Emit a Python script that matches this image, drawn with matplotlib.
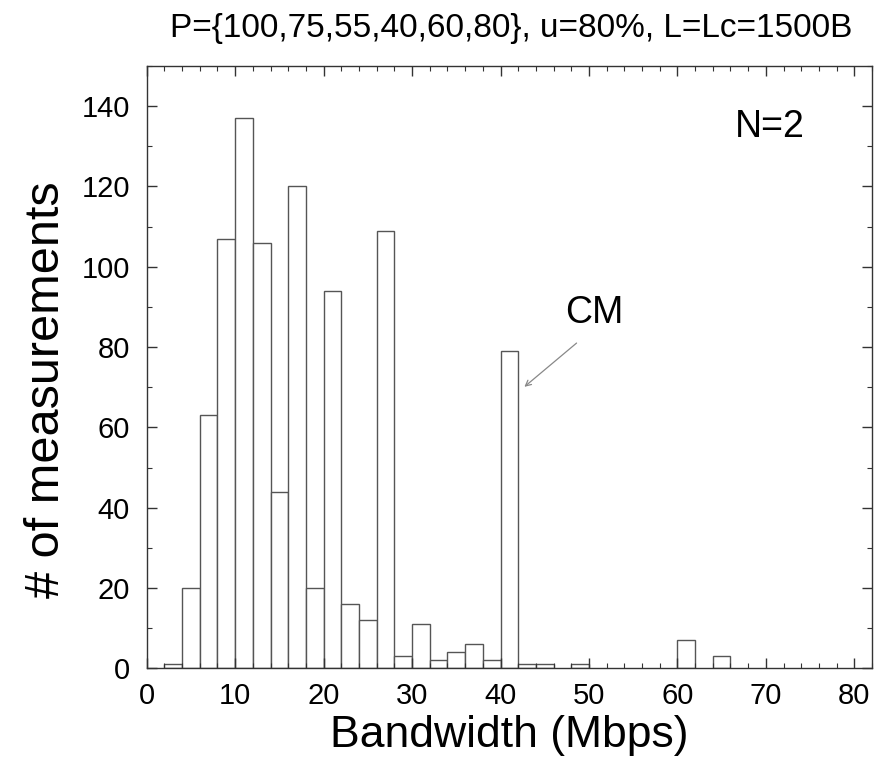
import matplotlib
matplotlib.use("Agg")
import matplotlib.pyplot as plt
from matplotlib.ticker import MultipleLocator

# Data (bin width 2 Mbps)
bin_left = [2, 4, 6, 8, 10, 12, 14, 16, 18, 20, 22, 24, 26, 28, 30, 32, 34,
            36, 38, 40, 42, 44, 48, 60, 64]
counts = [1, 20, 63, 107, 137, 106, 44, 120, 20, 94, 16, 12, 109, 3, 11, 2, 4,
          6, 2, 79, 1, 1, 1, 7, 3]
bin_width = 2

title = "P={100,75,55,40,60,80}, u=80%, L=Lc=1500B"
xlabel = "Bandwidth (Mbps)"
ylabel = "# of measurements"

plt.rcParams['font.family'] = ['Liberation Sans', 'DejaVu Sans']

fig = plt.figure(figsize=(8.75, 7.58), dpi=100)
ax = fig.add_axes([146.7 / 875, 1 - 668.3 / 758, (872 - 146.7) / 875, (668.3 - 66) / 758])

ax.bar(bin_left, counts, width=bin_width, align='edge', facecolor='white',
       edgecolor='#555555', linewidth=1.0)

ax.set_xlim(0, 82)
ax.set_ylim(0, 150)
ax.xaxis.set_minor_locator(MultipleLocator(2))
ax.yaxis.set_minor_locator(MultipleLocator(10))
ax.set_xticks(range(0, 81, 10))
ax.set_yticks(range(0, 141, 20))

ax.tick_params(which='both', direction='in', top=True, right=True, color='#333333')
ax.tick_params(which='major', length=7, width=1.0, labelsize=21)
ax.tick_params(which='minor', length=3.5, width=0.8)
ax.tick_params(axis='x', which='major', pad=10)
ax.tick_params(axis='y', which='major', pad=12)
for s in ax.spines.values():
    s.set_linewidth(1.0)
    s.set_color('#333333')

ax.set_xlabel(xlabel, fontsize=32, va='center')
ax.xaxis.set_label_coords(0.5, (668.3 - 736) / 602.3)
ax.set_ylabel(ylabel, fontsize=35, va='center')
ax.yaxis.set_label_coords((47 - 146.7) / 725.3, (668.3 - 390) / 602.3)

fig.text(511 / 875, 1 - 28 / 758, title, ha='center', va='center', fontsize=24)

ax.text(70.5, 134.7, "N=2", fontsize=27, ha='center', va='center')
ax.annotate("", xy=(42.7, 70.1), xytext=(48.6, 81.0),
            arrowprops=dict(arrowstyle='->', color='#888888', lw=0.9,
                            shrinkA=0, shrinkB=0, mutation_scale=10))
ax.text(50.6, 88.5, "CM", fontsize=27, ha='center', va='center')

fig.savefig("out.png", dpi=100)
